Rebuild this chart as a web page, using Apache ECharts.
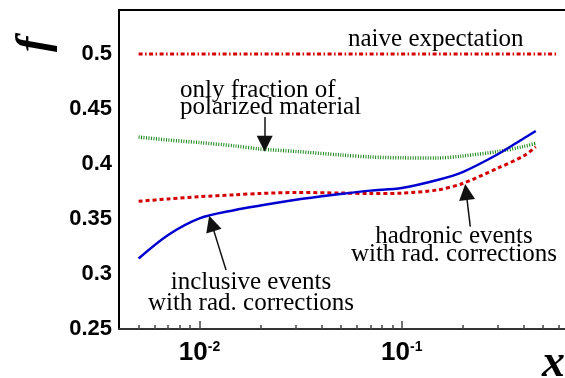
<!DOCTYPE html>
<html>
<head>
<meta charset="utf-8">
<script src="https://cdn.jsdelivr.net/npm/echarts@6/dist/echarts.min.js"></script>
<style>
html, body { margin: 0; padding: 0; overflow: hidden; background: #fff; }
#chart { width: 620px; height: 378px; }
</style>
</head>
<body>
<div id="chart"></div>
<script>
// x values shared by the three curves
var xVals = [0.005, 0.007, 0.01, 0.015, 0.02, 0.03, 0.05, 0.07, 0.1, 0.15, 0.2, 0.3, 0.4, 0.46];
var polarizedOnly = [0.4245, 0.4218, 0.4195, 0.4164, 0.4136, 0.4114, 0.4082, 0.4064, 0.4056, 0.4055, 0.4073, 0.4114, 0.4159, 0.4188];
var inclusiveRad = [0.3141, 0.3355, 0.3506, 0.3582, 0.3622, 0.3675, 0.3727, 0.3758, 0.3782, 0.3855, 0.3927, 0.4091, 0.4232, 0.4300];
var hadronicRad = [0.3662, 0.3682, 0.3703, 0.3720, 0.3732, 0.3741, 0.3736, 0.3731, 0.3735, 0.3764, 0.3823, 0.3964, 0.4073, 0.4155];
var naiveX = [0.005, 0.58];
var naiveY = [0.5, 0.5];

var yTicks = [0.25, 0.3, 0.35, 0.4, 0.45, 0.5];
var xMajor = [0.01, 0.1];
var xMinor = [0.005, 0.006, 0.007, 0.008, 0.009, 0.02, 0.03, 0.04, 0.05, 0.06, 0.07, 0.08, 0.09, 0.2, 0.3, 0.4, 0.5, 0.6, 0.7, 0.8, 0.9];

// annotation arrows: [tail, tip] in data units
var arrows = [
  [[0.021, 0.4427], [0.021, 0.4185]],
  [[0.01353, 0.3036], [0.01147, 0.3460]],
  [[0.2182, 0.3430], [0.2082, 0.3745]]
];

function lg(v) { return Math.log10(v); }
function pts(xs, ys) { return xs.map(function (x, i) { return [lg(x), ys[i]]; }); }

var chart = echarts.init(document.getElementById('chart'));
var serif = '25px "Liberation Serif", "DejaVu Serif", serif';

var baseX = {
  type: 'value',
  min: lg(0.004),
  max: 0,
  position: 'bottom',
  splitLine: { show: false }
};

chart.setOption({
  animation: false,
  grid: {
    left: 119, top: 10, bottom: 49, right: 16,
    show: true, borderColor: '#000', borderWidth: 2,
    containLabel: false, outerBoundsMode: 'none'
  },
  xAxis: [
    Object.assign({}, baseX, {
      axisLine: { lineStyle: { color: '#333', width: 2 } },
      axisTick: { inside: true, length: 8, lineStyle: { color: '#444', width: 1.5 }, customValues: xMajor.map(lg) },
      axisLabel: {
        customValues: xMajor.map(lg),
        margin: 11,
        formatter: function (v) { return '{b|10}{s|' + Math.round(v) + '}'; },
        rich: {
          b: { fontSize: 26, fontWeight: 'bold', fontFamily: 'Liberation Sans, Arial', color: '#000', lineHeight: 26 },
          s: { fontSize: 14, fontWeight: 'bold', fontFamily: 'Liberation Sans, Arial', color: '#000', lineHeight: 14, verticalAlign: 'top' }
        }
      }
    }),
    Object.assign({}, baseX, {
      axisLine: { show: false },
      axisTick: { inside: true, length: 4, lineStyle: { color: '#444', width: 1.5 }, customValues: xMinor.map(lg) },
      axisLabel: { show: false }
    })
  ],
  yAxis: {
    type: 'value',
    min: 0.25,
    max: 0.54,
    splitLine: { show: false },
    axisLine: { show: true, lineStyle: { color: '#000', width: 2 } },
    axisTick: { inside: true, length: 14, lineStyle: { color: '#444', width: 1.5 }, customValues: yTicks },
    axisLabel: {
      customValues: yTicks,
      margin: 7,
      fontSize: 22, fontWeight: 'bold', fontFamily: 'Liberation Sans, Arial', color: '#000',
      formatter: function (v) { return String(+v.toFixed(2)); }
    }
  },
  series: [
    {
      name: 'naive', type: 'line', showSymbol: false, data: pts(naiveX, naiveY),
      lineStyle: { color: '#d40000', width: 3, type: [4, 2.5, 1.5, 2.5] }
    },
    {
      name: 'polarized', type: 'line', showSymbol: false, smooth: 0.3, data: pts(xVals, polarizedOnly),
      lineStyle: { color: '#1b861b', width: 3.5, type: [1, 1.5] }
    },
    {
      name: 'hadronic', type: 'line', showSymbol: false, smooth: 0.3, data: pts(xVals, hadronicRad),
      lineStyle: { color: '#d40000', width: 3, type: [4, 3] }
    },
    {
      name: 'inclusive', type: 'line', showSymbol: false, smooth: 0.3, data: pts(xVals, inclusiveRad),
      lineStyle: { color: '#0000d0', width: 2.5 }
    },
    {
      name: 'arrows', type: 'line', data: [],
      markLine: {
        silent: true,
        symbol: ['none', 'triangle'],
        symbolSize: 16,
        label: { show: false },
        lineStyle: { color: '#111', width: 1.5, type: 'solid' },
        data: arrows.map(function (a) {
          return [{ coord: [lg(a[0][0]), a[0][1]] }, { coord: [lg(a[1][0]), a[1][1]] }];
        })
      }
    }
  ],
  graphic: [
    { type: 'text', left: 348, top: 27, style: { text: 'naive expectation', font: serif, fill: '#000' } },
    { type: 'text', left: 180, top: 78, style: { text: 'only fraction of', font: serif, fill: '#000' } },
    { type: 'text', left: 180, top: 95, style: { text: 'polarized material', font: serif, fill: '#000' } },
    { type: 'text', x: 454, y: 224, style: { text: 'hadronic events', font: serif, fill: '#000', textAlign: 'center' } },
    { type: 'text', x: 454, y: 242, style: { text: 'with rad. corrections', font: serif, fill: '#000', textAlign: 'center' } },
    { type: 'text', x: 251, y: 270, style: { text: 'inclusive events', font: serif, fill: '#000', textAlign: 'center' } },
    { type: 'text', x: 251, y: 291, style: { text: 'with rad. corrections', font: serif, fill: '#000', textAlign: 'center' } },
    { type: 'text', left: 542, top: 341, style: { text: 'x', font: 'italic bold 46px "Liberation Serif", serif', fill: '#000' } },
    { type: 'text', x: 12, y: 52, rotation: Math.PI / 2, style: { text: 'f', font: 'italic bold 46px "Liberation Serif", serif', fill: '#000' } }
  ]
});
</script>
</body>
</html>
